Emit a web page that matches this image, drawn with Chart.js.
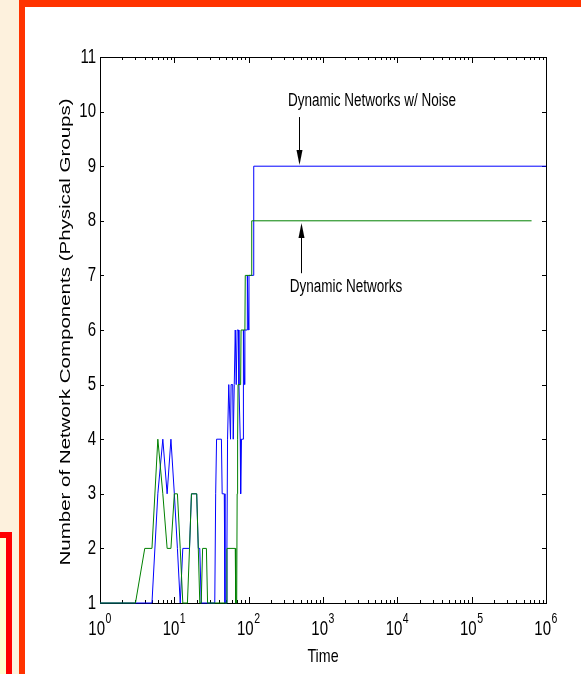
<!DOCTYPE html>
<html>
<head>
<meta charset="utf-8">
<script src="https://cdn.jsdelivr.net/npm/chart.js@4.4.0/dist/chart.umd.min.js"></script>
<style>
  html, body { margin: 0; padding: 0; }
  body { width: 581px; height: 674px; position: relative; overflow: hidden; background: #fdf1dd; }
  #frame { position: absolute; left: 19px; top: 0; width: 562px; height: 674px; background: #ff3300; }
  #panel { position: absolute; left: 25px; top: 7px; width: 556px; height: 667px; background: #fff; }
  #box { position: absolute; left: 0; top: 532px; width: 12px; height: 142px; background: #ff0000; }
  #boxIn { position: absolute; left: 0; top: 538px; width: 6px; height: 136px; background: #ffffd0; }
  canvas { display: block; }
</style>
</head>
<body>
<div id="frame"></div>
<div id="box"></div>
<div id="boxIn"></div>
<div id="panel"><canvas id="chart" width="556" height="667"></canvas></div>
<script>
// series: number of groups over time (log scale)
const plainTime  = [1, 3, 4, 5, 6, 7, 8, 9, 10, 11, 12, 13, 15, 16, 17, 20, 21, 22, 23, 24, 27, 28, 50, 51, 66, 67, 69, 70, 71, 72, 78, 79, 89, 90, 109, 110, 640000];
const plainCount = [1, 1, 2, 2, 4, 3, 2, 2, 3, 3, 2, 1, 1, 2, 3, 3, 2, 1, 1, 2, 2, 1, 1, 2, 2, 1, 1, 3, 4, 5, 5, 6, 6, 7, 7, 8, 8];

const noiseTime  = [1, 5, 6, 7, 8, 9, 10, 11, 12, 13, 16, 17, 20, 21, 22, 23, 35, 36, 37, 43, 44, 47, 48, 50, 51, 52, 54, 57, 58, 61, 62, 64, 66, 68, 70, 73, 74, 77, 78, 80, 84, 85, 88, 89, 95, 96, 100, 101, 116, 117, 1000000];
const noiseCount = [1, 1, 3, 4, 3, 4, 3, 2, 1, 2, 2, 3, 3, 2, 2, 1, 1, 3, 4, 4, 3, 3, 1, 1, 2, 4, 5, 4, 5, 5, 4, 5, 6, 5, 6, 6, 5, 4, 3, 4, 4, 6, 5, 6, 6, 7, 6, 7, 7, 9, 9];

const seriesLabels = ['Dynamic Networks w/ Noise', 'Dynamic Networks'];
const yTicks = [1, 2, 3, 4, 5, 6, 7, 8, 9, 10, 11];
const xDecades = [0, 1, 2, 3, 4, 5, 6];
const xTitle = 'Time';
const yTitle = 'Number of Network Components (Physical Groups)';

// annotation anchors in data units
const noiseNote = { x: 338, y: 10.1, arrowX: 476, from: 9.9, to: 9.02 };
const plainNote = { x: 357, y: 6.69, arrowX: 502, from: 7.04, to: 7.96 };

const FONT = '"Liberation Sans", Arial, sans-serif';
const squeeze = 0.75;

function txt(ctx, s, px, py, size, align, base) {
    ctx.save();
    ctx.translate(px, py);
    ctx.scale(squeeze, 1);
    ctx.font = size + 'px ' + FONT;
    ctx.textAlign = align;
    ctx.textBaseline = base;
    ctx.fillText(s, 0, 0);
    ctx.restore();
}

function arrow(ctx, x, y0, y1) {
    const dir = y1 > y0 ? 1 : -1;
    ctx.beginPath();
    ctx.moveTo(x, y0);
    ctx.lineTo(x, y1 - dir * 12);
    ctx.stroke();
    ctx.beginPath();
    ctx.moveTo(x, y1);
    ctx.lineTo(x - 3, y1 - dir * 15);
    ctx.lineTo(x + 3, y1 - dir * 15);
    ctx.closePath();
    ctx.fill();
}

const matlabAxes = {
    id: 'matlabAxes',
    beforeDatasetsDraw(chart) {
        const { ctx, chartArea: a, scales: { x, y } } = chart;
        ctx.save();
        ctx.strokeStyle = '#000';
        ctx.lineWidth = 1;
        ctx.strokeRect(a.left + 0.5, a.top + 0.5, a.right - a.left, a.bottom - a.top);
        ctx.beginPath();
        // y ticks, inward on both sides
        yTicks.forEach(v => {
            const py = Math.round(y.getPixelForValue(v)) + 0.5;
            ctx.moveTo(a.left, py); ctx.lineTo(a.left + 4, py);
            ctx.moveTo(a.right, py); ctx.lineTo(a.right - 4, py);
        });
        // log ticks top and bottom
        xDecades.forEach(k => {
            for (let m = 1; m <= 9; m++) {
                if (k === 6 && m > 1) break;
                const px = Math.round(x.getPixelForValue(m * Math.pow(10, k))) + 0.5;
                const len = m === 1 ? 6 : 3;
                ctx.moveTo(px, a.bottom); ctx.lineTo(px, a.bottom - len);
                ctx.moveTo(px, a.top); ctx.lineTo(px, a.top + len);
            }
        });
        ctx.stroke();
        ctx.restore();
    },
    afterDatasetsDraw(chart) {
        const { ctx, chartArea: a, scales: { x, y } } = chart;
        ctx.save();
        ctx.fillStyle = '#000';
        ctx.strokeStyle = '#000';
        ctx.lineWidth = 1;

        yTicks.forEach(v => txt(ctx, String(v), a.left - 4, y.getPixelForValue(v), 20, 'right', 'middle'));
        xDecades.forEach(k => {
            const px = x.getPixelForValue(Math.pow(10, k));
            txt(ctx, '10', px + 5, a.bottom + 32, 20, 'right', 'alphabetic');
            txt(ctx, String(k), px + 5.5, a.bottom + 20, 14, 'left', 'alphabetic');
        });
        txt(ctx, xTitle, (a.left + a.right) / 2, a.bottom + 59, 19, 'center', 'alphabetic');

        // y title, rotated
        ctx.save();
        ctx.translate(45, (a.top + a.bottom) / 2 + 2);
        ctx.scale(0.68, 1);
        ctx.rotate(-Math.PI / 2);
        ctx.font = '20.5px ' + FONT;
        ctx.textAlign = 'center';
        ctx.textBaseline = 'alphabetic';
        ctx.fillText(yTitle, 0, 0);
        ctx.restore();

        // annotations
        txt(ctx, seriesLabels[0], x.getPixelForValue(noiseNote.x), y.getPixelForValue(noiseNote.y), 18, 'left', 'alphabetic');
        txt(ctx, seriesLabels[1], x.getPixelForValue(plainNote.x), y.getPixelForValue(plainNote.y), 18, 'left', 'alphabetic');
        const ax1 = Math.round(x.getPixelForValue(noiseNote.arrowX)) + 0.5;
        arrow(ctx, ax1, y.getPixelForValue(noiseNote.from), y.getPixelForValue(noiseNote.to));
        const ax2 = Math.round(x.getPixelForValue(plainNote.arrowX)) + 0.5;
        arrow(ctx, ax2, y.getPixelForValue(plainNote.from), y.getPixelForValue(plainNote.to));
        ctx.restore();
    }
};

const toPoints = (ts, vs) => ts.map((t, i) => ({ x: t, y: vs[i] }));

new Chart(document.getElementById('chart'), {
    type: 'scatter',
    data: {
        datasets: [{
            label: seriesLabels[1],
            data: toPoints(plainTime, plainCount),
            showLine: true,
            borderColor: '#008000',
            borderWidth: 1,
            pointRadius: 0,
            tension: 0,
            clip: 2
        }, {
            label: seriesLabels[0],
            data: toPoints(noiseTime, noiseCount),
            showLine: true,
            borderColor: '#0000ff',
            borderWidth: 1,
            pointRadius: 0,
            tension: 0,
            clip: 2
        }]
    },
    options: {
        responsive: false,
        animation: false,
        devicePixelRatio: 1,
        layout: { padding: { left: 0, top: 50, right: 35, bottom: 0 } },
        plugins: { legend: { display: false }, tooltip: { enabled: false } },
        scales: {
            x: {
                type: 'logarithmic', min: 1, max: 1e6,
                grid: { display: false }, border: { display: false }, ticks: { display: false },
                afterFit(s) { s.height = 71; }
            },
            y: {
                type: 'linear', min: 1, max: 11,
                grid: { display: false }, border: { display: false }, ticks: { display: false },
                afterFit(s) { s.width = 75; }
            }
        }
    },
    plugins: [matlabAxes]
});
</script>
</body>
</html>
